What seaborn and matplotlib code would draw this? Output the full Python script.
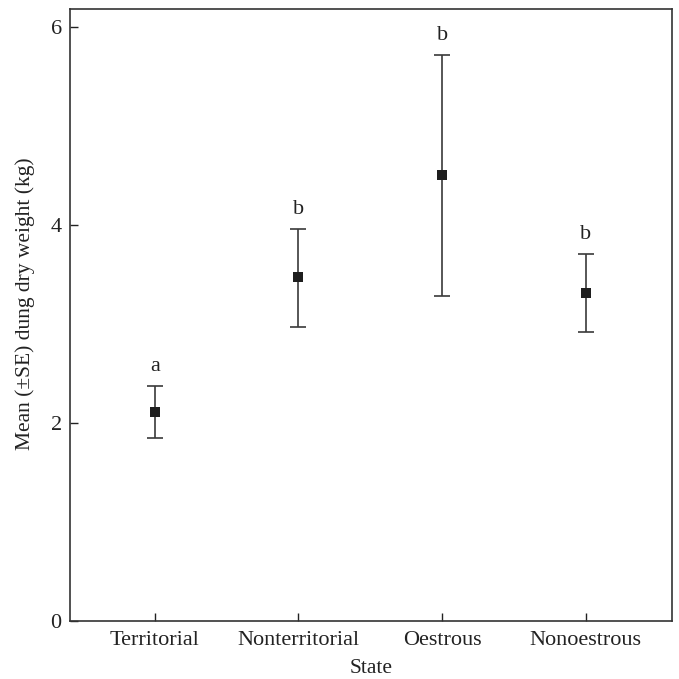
import matplotlib
matplotlib.use("Agg")
import matplotlib.pyplot as plt
import seaborn as sns
import pandas as pd
import numpy as np

states = ["Territorial", "Nonterritorial", "Oestrous", "Nonoestrous"]
means = [2.11, 3.47, 4.50, 3.31]
upper = [2.37, 3.96, 5.72, 3.71]
lower = [1.85, 2.97, 3.28, 2.92]
letters = ["a", "b", "b", "b"]

sns.set_theme(style="ticks")
plt.rcParams["font.family"] = ["Liberation Serif", "DejaVu Serif"]

df = pd.DataFrame({"State": states, "Mean": means, "Upper": upper, "Lower": lower})

fig = plt.figure(figsize=(6.79, 6.79), dpi=100)
ax = fig.add_axes([70 / 679, 1 - 621 / 679, (672 - 70) / 679, (621 - 9) / 679])

xpos = np.arange(len(states))
yerr = [df["Mean"] - df["Lower"], df["Upper"] - df["Mean"]]
ax.errorbar(xpos, df["Mean"], yerr=yerr, fmt="none", ecolor="#3a3a3a",
            elinewidth=1.2, capsize=6, capthick=1.2, zorder=2)
sns.scatterplot(data=df, x="State", y="Mean", marker="s", s=60, color="#1e1e1e",
                edgecolor="#1e1e1e", linewidth=0, ax=ax, zorder=3)

for i, (u, l) in enumerate(zip(df["Upper"], letters)):
    ax.text(i, u + 0.1, l, ha="center", va="bottom", fontsize=16, color="#222222")

ax.set_xlim(-0.59, 3.6)
ax.set_ylim(0, 6.18)
ax.set_yticks([0, 2, 4, 6])
ax.set_xticks(xpos)
ax.set_xticklabels(states)
ax.tick_params(direction="in", length=6, width=1, colors="#222222", labelsize=16)
ax.tick_params(axis="x", pad=7)
ax.tick_params(axis="y", pad=6)
for sp in ax.spines.values():
    sp.set_visible(True)
    sp.set_linewidth(1.2)
    sp.set_color("#333333")
ax.set_xlabel("State", fontsize=15.5, color="#222222", labelpad=7)
ax.set_ylabel("Mean (±SE) dung dry weight (kg)", fontsize=15.5, color="#222222")
ax.yaxis.set_label_coords(-0.058, 0.518)

fig.savefig("out.png", dpi=100)
